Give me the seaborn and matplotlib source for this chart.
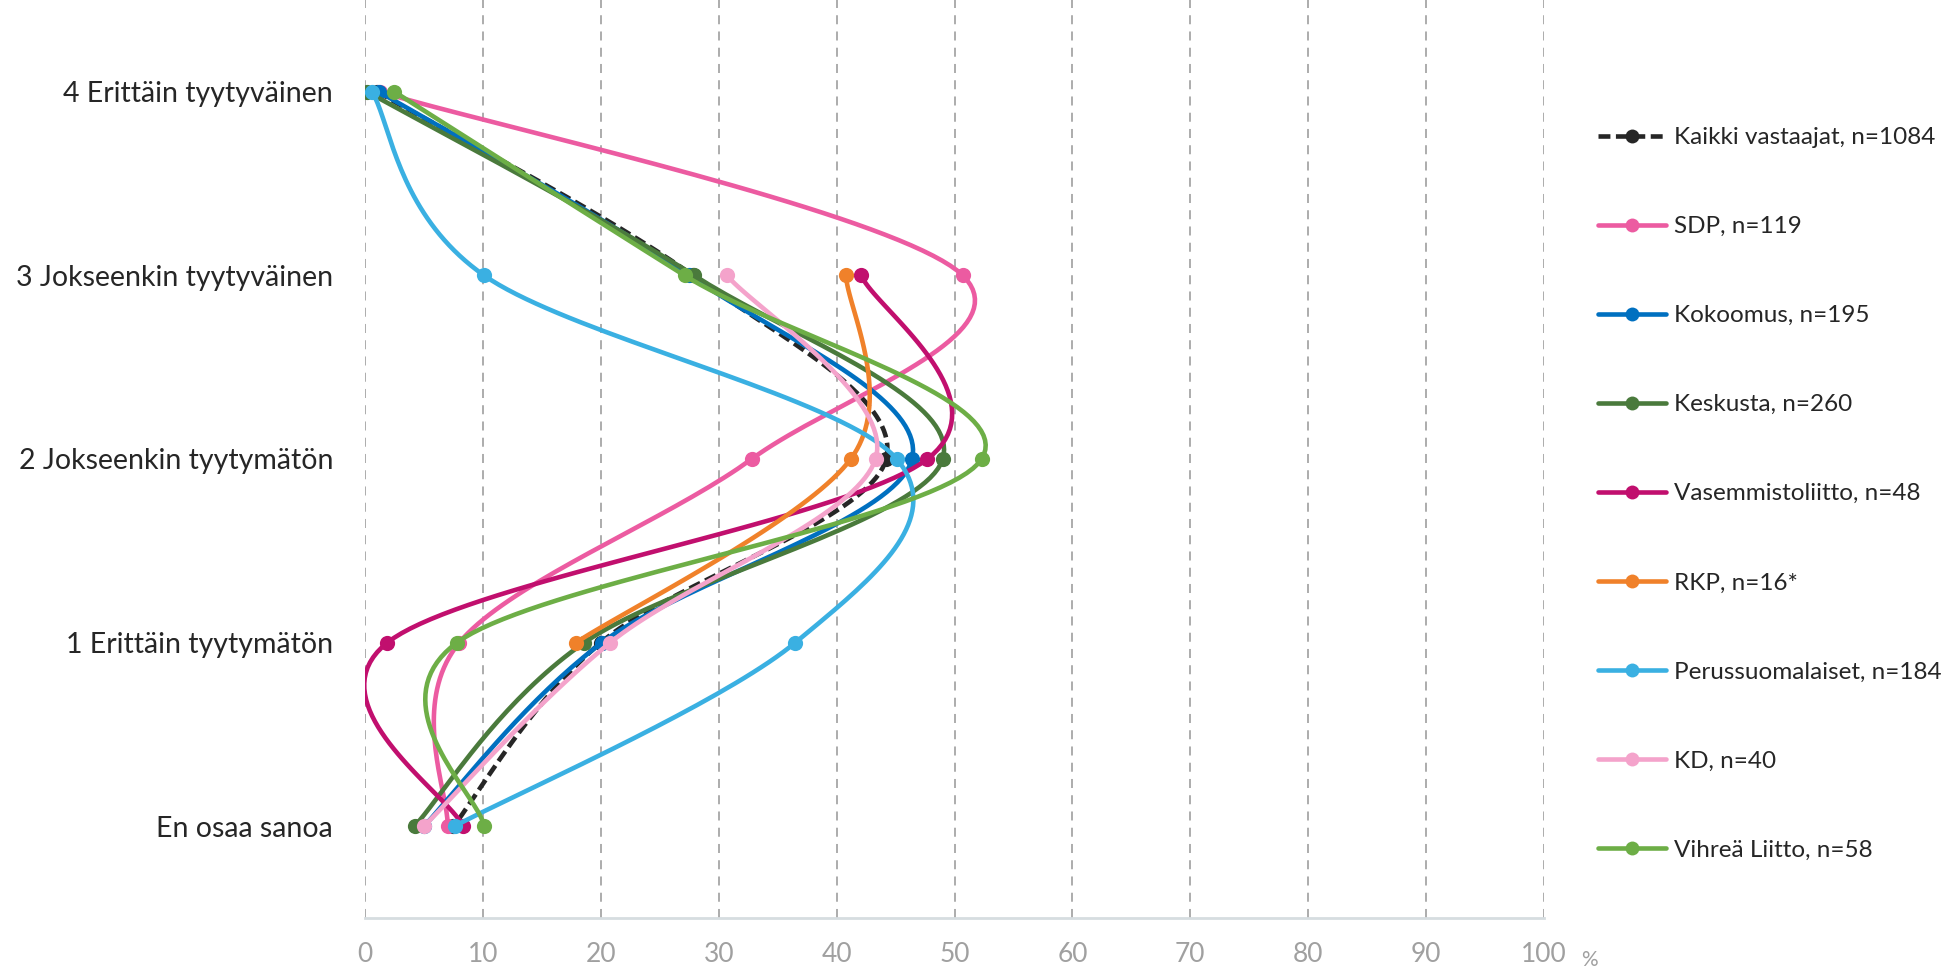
import numpy as np
import pandas as pd
import matplotlib
matplotlib.use("Agg")
import matplotlib.pyplot as plt
from matplotlib.lines import Line2D
import seaborn as sns

# categories, bottom to top (0 = En osaa sanoa ... 4 = Erittäin tyytyväinen)
categories = ["En osaa sanoa", "1 Erittäin tyytymätön", "2 Jokseenkin tyytymätön",
              "3 Jokseenkin tyytyväinen", "4 Erittäin tyytyväinen"]

series = ["Kaikki vastaajat, n=1084", "SDP, n=119", "Kokoomus, n=195", "Keskusta, n=260",
          "Vasemmistoliitto, n=48", "RKP, n=16*", "Perussuomalaiset, n=184", "KD, n=40",
          "Vihreä Liitto, n=58"]
colors = ["#262626", "#EC5BA1", "#0070C0", "#4A7A3C", "#C10F6E", "#F0812A",
          "#3AB0E2", "#F4A3CB", "#6DAE46"]

# percentages in order: 4, 3, 2, 1, En osaa sanoa (NaN = no value shown)
kaikki = [1.0, 27.8, 44.2, 20.0, 7.5]
sdp = [1.3, 50.7, 32.8, 8.0, 7.0]
kokoomus = [1.2, 27.5, 46.4, 20.1, 5.0]
keskusta = [0.2, 27.9, 49.0, 18.6, 4.2]
vasemmisto = [np.nan, 42.1, 47.7, 1.9, 8.3]
rkp = [np.nan, 40.8, 41.2, 17.9, np.nan]
ps = [0.6, 10.1, 45.1, 36.5, 7.6]
kd = [np.nan, 30.7, 43.3, 20.8, 5.0]
vihr = [2.5, 27.1, 52.3, 7.8, 10.1]
levels = [4, 3, 2, 1, 0]

values = [kaikki, sdp, kokoomus, keskusta, vasemmisto, rkp, ps, kd, vihr]


def smooth(xs, ys, n=40):
    pts = np.array([(x, y) for x, y in zip(xs, ys) if not np.isnan(x)], dtype=float)
    out = [pts[0]]
    for i in range(len(pts) - 1):
        p0 = pts[i - 1] if i > 0 else pts[i]
        p1, p2 = pts[i], pts[i + 1]
        p3 = pts[i + 2] if i + 2 < len(pts) else pts[i + 1]
        c1 = p1 + (p2 - p0) / 6
        c2 = p2 - (p3 - p1) / 6
        t = np.linspace(0, 1, n)[1:, None]
        seg = ((1 - t) ** 3) * p1 + 3 * ((1 - t) ** 2) * t * c1 + 3 * (1 - t) * t ** 2 * c2 + t ** 3 * p2
        out.extend(seg)
    out = np.array(out)
    return out[:, 0], out[:, 1]


sns.set_style("white")
plt.rcParams["font.family"] = ["Lato", "DejaVu Sans"]

fig = plt.figure(figsize=(19.6, 9.72), dpi=100)
ax = fig.add_axes([365 / 1960, 1 - 918 / 972, 1179 / 1960, 918 / 972])

handles = []
for k, (name, col, vals) in enumerate(zip(series, colors, values)):
    sx, sy = smooth(vals, levels)
    ls = (0, (2.6, 1.2)) if k == 0 else "-"
    sns.lineplot(x=sx, y=sy, sort=False, estimator=None, color=col, lw=3.3,
                 linestyle=ls, ax=ax, zorder=3 + k)
    pts = pd.DataFrame({"x": vals, "y": levels}).dropna()
    sns.scatterplot(data=pts, x="x", y="y", color=col, s=120, linewidth=0,
                    ax=ax, zorder=3 + k)
    handles.append(Line2D([0], [0], color=col, lw=3.3, linestyle=ls, marker="o",
                          markersize=10, markeredgewidth=0))

ax.set_xlim(0, 100)
ax.set_ylim(-0.5, 4.5)
ax.set_xticks(range(0, 101, 10))
ax.set_yticks(levels[::-1])
ax.set_yticklabels(categories, fontsize=20.5, color="#262626")
ax.tick_params(axis="x", labelsize=19, labelcolor="#A0A0A0", length=0, pad=17)
ax.tick_params(axis="y", length=0, pad=23)
ax.set_xlabel("")
ax.set_ylabel("")
ax.grid(axis="x", color="#A6A6A6", linestyle=(0, (5, 4)), lw=1.3)
ax.grid(axis="y", visible=False)
for s in ["top", "right", "left"]:
    ax.spines[s].set_visible(False)
ax.spines["bottom"].set_color("#D6DDE0")
ax.spines["bottom"].set_linewidth(2)
ax.set_axisbelow(True)

fig.text(1581 / 1960, 1 - 960 / 972, "%", fontsize=15, color="#A0A0A0", va="center", ha="left")

fig.legend(handles, series, loc="upper left", bbox_to_anchor=(1598 / 1960, 1 - 127 / 972),
           frameon=False, fontsize=17.5, handlelength=2.8, handletextpad=0.32,
           labelspacing=2.8, borderpad=0, borderaxespad=0, labelcolor="#262626")

fig.savefig("out.png", dpi=100)
